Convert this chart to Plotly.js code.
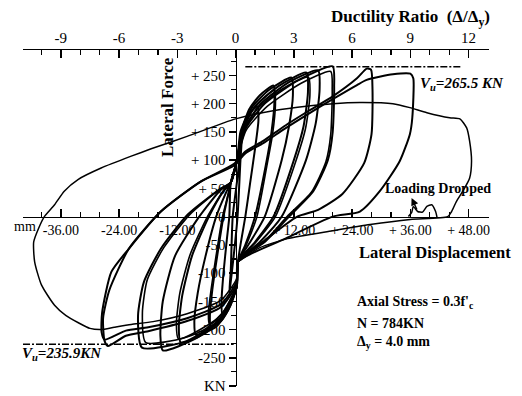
<!DOCTYPE html>
<html>
<head>
<meta charset="utf-8">
<script src="https://cdn.plot.ly/plotly-3.0.1.min.js"></script>
<style>html,body{margin:0;padding:0;background:#fff;}#chart{width:522px;height:396px;}</style>
</head>
<body>
<div id="chart"></div>
<script>
// ---------- data (displacement in mm, lateral force in kN) ----------
const cyc0X = [-0.6, 0.4, 1.0, 1.3, 1.0, 0.4, -0.4, -1.0, -1.3, -1.0, -0.6];
const cyc0Y = [0, 70, 120, 140, 100, 0, -70, -115, -135, -95, 0];

const cyc1X = [-1, 0.3, 1.0, 2.5, 4.5, 4.7, 4.0, 3.0, 2.0, 1.0, 0.5, 0.3, -1.0, -2.7, -2.9, -2.5, -1.8, -1.3, -1];
const cyc1Y = [60, 100, 150, 180, 195, 170, 120, 60, 0, -50, -80, -120, -150, -175, -150, -100, -40, 0, 60];

const cyc2X = [-1, 0.3, 1.2, 2.8, 5.0, 7.8, 8.0, 7.4, 6.2, 4.0, 2.0, 0.5, 0.2, -1.2, -3.0, -5.1, -5.3, -4.8, -3.8, -2.5, -1.5, -1];
const cyc2Y = [60, 100, 150, 190, 215, 232, 205, 150, 90, 0, -50, -80, -125, -160, -185, -196, -175, -130, -70, 0, 40, 60];
const cyc2bX = [-1, 0.3, 1.3, 3.2, 5.6, 8.0, 8.2, 7.6, 6.4, 4.4, 2.2, 0.5, 0.2, -1.4, -3.3, -5.4, -5.6, -5.0, -4.0, -2.7, -1.5, -1];
const cyc2bY = [60, 100, 148, 185, 208, 224, 198, 145, 88, 0, -50, -80, -122, -157, -180, -190, -170, -126, -68, 0, 40, 60];

const cyc3X = [-1, 0.3, 1.4, 3.5, 7.0, 11.5, 11.8, 11.0, 9.5, 6.0, 3.0, 0.5, 0.2, -1.5, -4.0, -8.2, -8.5, -7.8, -6.2, -4.0, -2.0, -1];
const cyc3Y = [60, 100, 155, 195, 225, 246, 215, 160, 100, 0, -45, -80, -125, -165, -195, -209, -185, -135, -70, 0, 42, 60];

const cyc4X = [-1, 0.3, 1.6, 4.0, 9.0, 14.6, 14.9, 14.0, 12.0, 7.8, 4.0, 0.5, 0.2, -2, -6, -11.3, -11.7, -11, -9, -5.5, -2.5, -1];
const cyc4Y = [60, 100, 155, 195, 232, 255, 220, 160, 100, 0, -45, -80, -125, -170, -205, -223, -195, -140, -70, 0, 45, 60];
const cyc4bX = [-1, 0.3, 1.7, 4.4, 9.6, 15.0, 15.3, 14.4, 12.4, 8.2, 4.2, 0.5, 0.2, -2.2, -6.4, -11.8, -12.2, -11.5, -9.4, -5.8, -2.6, -1];
const cyc4bY = [60, 100, 152, 190, 226, 247, 214, 156, 98, 0, -45, -80, -122, -165, -200, -216, -190, -136, -68, 0, 45, 60];

const cyc5X = [-1, 0.3, 1.8, 5, 11, 17, 17.3, 16.5, 14.5, 9.5, 5, 0.5, 0.2, -2.5, -8, -15, -15.5, -15, -12.5, -7.5, -3, -1];
const cyc5Y = [60, 100, 155, 198, 238, 259, 225, 165, 100, 0, -45, -80, -125, -175, -215, -237, -210, -150, -70, 0, 48, 60];

const cyc6X = [-1, 0.3, 2, 6, 13, 20, 20.3, 20, 19, 16, 11, 6, 0.5, 0.2, -3, -10, -19.3, -20.1, -18.9, -15.4, -9.8, -3, -1];
const cyc6Y = [60, 100, 155, 200, 242, 266, 230, 150, 100, 45, 0, -45, -80, -125, -180, -220, -232, -175, -116, -57, 4, 50, 60];
const cyc6bX = [-1, 0.3, 2.1, 6.5, 13.5, 19.6, 19.9, 19.6, 18.6, 15.6, 10.6, 5.8, 0.5, 0.2, -3.2, -10.5, -18.5, -19.2, -18.2, -14.8, -9.4, -3, -1];
const cyc6bY = [60, 100, 152, 195, 236, 257, 224, 146, 97, 43, 0, -45, -80, -122, -176, -214, -223, -170, -112, -55, 4, 50, 60];

const cyc7X = [-0.4, 2, 5.7, 10, 15, 20, 25, 27, 27.9, 28.2, 28, 26.5, 22, 17, 12.7, 6, 0.5, 0.2, -3, -10, -18, -22.6, -26.3, -27, -27.3, -26, -22, -15.4, -7.2, -0.4];
const cyc7Y = [93, 115, 134, 160, 187, 213, 245, 262, 260, 225, 146, 95, 40, 12, 0, -42, -80, -120, -160, -185, -203, -211, -229, -220, -180, -130, -57, 9, 62, 93];

const cyc8X = [-0.4, 2, 5.7, 10, 15, 20, 25, 27, 32.4, 36, 36.6, 36.4, 35.9, 33.8, 29.7, 25.6, 20, 10, 0.5, 0.2, -3, -10, -18, -22.6, -27, -27.6, -27.5, -25.6, -22, -15.4, -7.2, -0.4];
const cyc8Y = [90, 112, 130, 155, 182, 208, 233, 242, 252, 253, 245, 175, 146, 98, 45, 9, 0, -40, -80, -115, -155, -180, -196, -202, -218, -205, -170, -98, -57, 9, 62, 90];

const finalX = [0.5, 0.2, -3, -10, -17, -21.5, -25, -27.7, -30, -32.4, -35, -37.3, -40, -41.4, -41.6, -40.6, -39.4, -37.3, -35.3, -32.4, -27.7, -21.5, -17.4, -10, 0, 8, 15, 20, 25.6, 32.4, 35.9, 39.4, 44.1, 46.2, 47.6, 48.2, 48.6, 48.2, 46.8, 45.5, 44.5, 43.7, 36, 27.7, 20, 10.7, 5, 1];
const finalY = [-80, -110, -148, -172, -186, -191, -196, -200, -198, -188, -175, -157, -121, -80, -45, -21, 0, 21, 45, 66, 86, 107, 120, 142, 173, 188, 196, 200, 202, 200, 193, 184, 175, 173, 157, 134, 98, 68, 45, 27, 9, 0, -5, -14, -25, -39, -55, -77];

const droppedX = [35.6, 36.3, 36.6, 37.5, 38.5, 39.4, 40.4, 41.2, 41.5];
const droppedY = [0, 8, 18, 9, 8, 18, 21, 9, -2];

const vuPosX = [2, 46.5];
const vuPosY = [265.5, 265.5];
const vuNegX = [-43.8, -0.4];
const vuNegY = [-226, -226];

const xTickVals = [-36, -24, -12, 12, 24, 36, 48];
const xTickText = ['-36.00', '-24.00', '-12.00', '+ 12.00', '+ 24.00', '+ 36.00', '+ 48.00'];
const yTickVals = [250, 200, 150, 100, 50, 0, -50, -100, -150, -200, -250, -300];
const yTickText = ['+ 250', '+ 200', '+ 150', '+ 100', '+ 50', '0', '-50', '-100', '-150', '-200', '-250', 'KN'];
const dTickVals = [-9, -6, -3, 0, 3, 6, 9, 12];
const dTickText = ['-9', '-6', '-3', '0', '3', '6', '9', '12'];

// ---------- geometry ----------
const W = 522, H = 396;
const L = 23, R = 489.5, T = 49.7, B = 386.5;
const xRange = [-43.8, 52.2];
const yRange = [-300, 295];
const dRange = [xRange[0] / 4, xRange[1] / 4];
function P(px, py) { return { x: (px - L) / (R - L), y: (B - py) / (B - T) }; }

const serif = 'Liberation Serif, Times New Roman, serif';
const black = '#000';

function loop(x, y, w) {
  return { x: x, y: y, mode: 'lines', xaxis: 'x', yaxis: 'y', hoverinfo: 'skip',
    line: { color: black, width: w, shape: 'spline', smoothing: 0.6 } };
}

const traces = [
  loop(cyc0X, cyc0Y, 2), loop(cyc1X, cyc1Y, 2), loop(cyc2X, cyc2Y, 2), loop(cyc2bX, cyc2bY, 1.6),
  loop(cyc3X, cyc3Y, 2), loop(cyc4X, cyc4Y, 2), loop(cyc4bX, cyc4bY, 1.6),
  loop(cyc5X, cyc5Y, 2), loop(cyc6X, cyc6Y, 2), loop(cyc6bX, cyc6bY, 1.6),
  loop(cyc7X, cyc7Y, 2), loop(cyc8X, cyc8Y, 2), loop(finalX, finalY, 1.5), loop(droppedX, droppedY, 1.5),
  { x: vuPosX, y: vuPosY, mode: 'lines', line: { color: black, width: 1.5, dash: '7px,2px,2px,2px' }, hoverinfo: 'skip' },
  { x: vuNegX, y: vuNegY, mode: 'lines', line: { color: black, width: 1.5, dash: '7px,2px,2px,2px' }, hoverinfo: 'skip' },
  { x: [dRange[0]], y: [0], xaxis: 'x2', yaxis: 'y', mode: 'markers', marker: { opacity: 0 }, hoverinfo: 'skip' }
];

function ann(px, py, text, opts) {
  const p = P(px, py);
  return Object.assign({ xref: 'paper', yref: 'paper', x: p.x, y: p.y, text: text, showarrow: false,
    font: { family: serif, size: 15, color: black }, xanchor: 'left', yanchor: 'middle' }, opts || {});
}

const arrowHead = P(412, 198);

const layout = {
  width: W, height: H,
  margin: { l: L, r: W - R, t: T, b: H - B, pad: 0 },
  paper_bgcolor: '#fff', plot_bgcolor: 'rgba(0,0,0,0)',
  showlegend: false,
  font: { family: serif, color: black, size: 14 },
  xaxis: {
    range: xRange, anchor: 'free', position: (0 - yRange[0]) / (yRange[1] - yRange[0]),
    showgrid: false, zeroline: false, showline: true, linecolor: black, linewidth: 1.5,
    tickmode: 'array', tickvals: xTickVals, ticktext: xTickText,
    ticks: 'inside', ticklen: 8, tickwidth: 1.5, tickcolor: black,
    tickfont: { family: serif, size: 14, color: black },
    minor: { tickmode: 'linear', tick0: 0, dtick: 4, ticks: 'inside', ticklen: 5, tickwidth: 1.2, tickcolor: black },
    automargin: false, fixedrange: true
  },
  xaxis2: {
    range: dRange, overlaying: 'x', side: 'top', anchor: 'y',
    showgrid: false, zeroline: false, showline: true, linecolor: black, linewidth: 1.5,
    tickmode: 'array', tickvals: dTickVals, ticktext: dTickText,
    ticks: 'inside', ticklen: 8, tickwidth: 1.5, tickcolor: black,
    tickfont: { family: serif, size: 15, color: black },
    minor: { tickmode: 'linear', tick0: 0, dtick: 1, ticks: 'inside', ticklen: 5, tickwidth: 1.2, tickcolor: black },
    automargin: false, fixedrange: true
  },
  yaxis: {
    range: yRange, anchor: 'free', position: (0 - xRange[0]) / (xRange[1] - xRange[0]),
    showgrid: false, zeroline: false, showline: true, linecolor: black, linewidth: 1.5,
    tickmode: 'array', tickvals: yTickVals, ticktext: yTickText,
    ticks: 'outside', ticklen: 7, tickwidth: 1.5, tickcolor: black,
    tickfont: { family: serif, size: 15, color: black },
    minor: { tickmode: 'linear', tick0: 0, dtick: 25, ticks: 'outside', ticklen: 5, tickwidth: 1.2, tickcolor: black },
    automargin: false, fixedrange: true
  },
  annotations: [
    ann(493, 18, '<b>Ductility Ratio  (Δ/Δ<sub>y</sub>)</b>', { xanchor: 'right', font: { family: serif, size: 17, color: black } }),
    ann(357, 253, '<b>Lateral Displacement</b>', { font: { family: serif, size: 16.5, color: black } }),
    ann(167, 107, '<b>Lateral Force</b>', { xanchor: 'center', textangle: -90, font: { family: serif, size: 17, color: black } }),
    ann(12, 227, 'mm', { font: { family: serif, size: 14, color: black } }),
    ann(418, 84, '<b><i>V<sub>u</sub>=265.5 KN</i></b>', { font: { family: serif, size: 15, color: black } }),
    ann(20, 354, '<b><i>V<sub>u</sub>=235.9KN</i></b>', { font: { family: serif, size: 15, color: black } }),
    ann(383, 189, '<b>Loading Dropped</b>', { font: { family: serif, size: 14, color: black } }),
    ann(355, 303, "<b>Axial Stress = 0.3f'<sub>c</sub></b>", { font: { family: serif, size: 14, color: black } }),
    ann(355, 324, '<b>N = 784KN</b>', { font: { family: serif, size: 14, color: black } }),
    ann(355, 343, '<b>Δ<sub>y</sub> = 4.0 mm</b>', { font: { family: serif, size: 14, color: black } }),
    { xref: 'paper', yref: 'paper', x: arrowHead.x, y: arrowHead.y, axref: 'pixel', ayref: 'pixel',
      ax: 6, ay: 13, text: '', showarrow: true, arrowhead: 2, arrowsize: 1, arrowwidth: 1.5, arrowcolor: black }
  ]
};

Plotly.newPlot('chart', traces, layout, { staticPlot: true, displayModeBar: false });
</script>
</body>
</html>
